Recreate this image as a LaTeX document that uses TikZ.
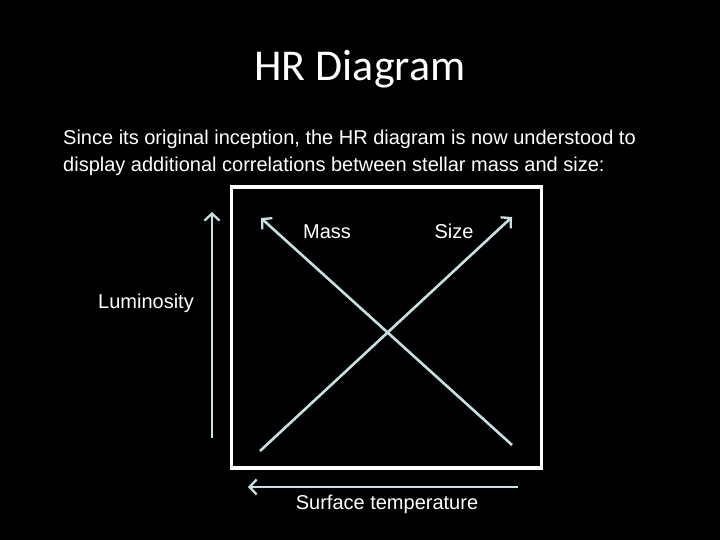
\documentclass[tikz,border=0pt]{standalone}
\usepackage{fontspec}
\setmainfont{Liberation Sans}
\newfontfamily\titlefont{Carlito}
\usetikzlibrary{arrows.meta}
\definecolor{arrowcol}{HTML}{C4E2E2}
\tikzset{
  axisarrow/.style={draw=arrowcol, line width=2.6pt, -{Straight Barb[length=7pt,width=15pt,line width=2.3pt]}},
  lbl/.style={text=white, font=\fontsize{20}{24}\selectfont, inner sep=0pt, anchor=base},
}
\begin{document}
\begin{tikzpicture}[x=1pt,y=-1pt]
\fill[black] (0,0) rectangle (720,540);
\useasboundingbox (0,0) rectangle (720,540);
\node[text=white, font=\titlefont\fontsize{44}{52}\selectfont, inner sep=0pt, anchor=base] (title) at (360,81) {HR Diagram};
\node[text=white, font=\fontsize{20}{27}\selectfont, align=left, anchor=base west, inner sep=0pt] (intro) at (63,172)
  {Since its original inception, the HR diagram is now understood to\\display additional correlations between stellar mass and size:};
\node[draw=white, line width=3.2pt, minimum width=310pt, minimum height=281pt, inner sep=0pt] (box) at (386.5,327.5) {};
\coordinate (lumlo) at (212,438);
\coordinate (lumhi) at (212,212);
\coordinate (masslo) at (512,445);
\coordinate (masshi) at (261,218);
\coordinate (sizelo) at (260,451);
\coordinate (sizehi) at (512,217);
\coordinate (templo) at (518,487);
\coordinate (temphi) at (248,487);
\draw[axisarrow] (lumlo) -- (lumhi);
\draw[axisarrow] (masslo) -- (masshi);
\draw[axisarrow] (sizelo) -- (sizehi);
\draw[axisarrow] (templo) -- (temphi);
\node[lbl] (mass) at (327,238) {Mass};
\node[lbl] (size) at (454,238) {Size};
\node[lbl] (lum) at (146,308) {Luminosity};
\node[lbl] (temp) at (387,509) {Surface temperature};
\end{tikzpicture}
\end{document}
